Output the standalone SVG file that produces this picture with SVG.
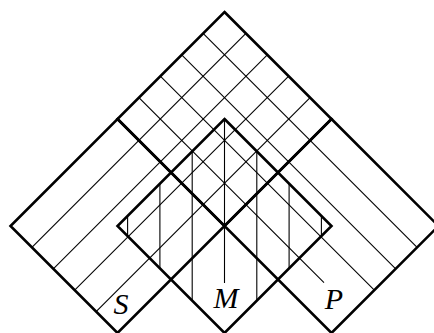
<svg xmlns="http://www.w3.org/2000/svg" width="434" height="333" viewBox="0 0 434 333">
<style>
.thick{fill:none;stroke:#000;stroke-width:2.6;stroke-linejoin:miter}
.thin{fill:none;stroke:#000;stroke-width:1.1}
.lbl{font-family:"Liberation Serif","DejaVu Serif",serif;font-style:italic;font-size:30px;fill:#000;text-anchor:middle}
</style>
<rect width="434" height="333" fill="#fff"/>
<g id="hatching" class="thin">
<line x1="203.1" y1="33.4" x2="417.1" y2="247.4"/>
<line x1="181.7" y1="54.8" x2="395.7" y2="268.8"/>
<line x1="160.3" y1="76.2" x2="374.3" y2="290.2"/>
<line x1="138.9" y1="97.6" x2="324" y2="282.7"/>
<line x1="245.9" y1="33.4" x2="31.9" y2="247.4"/>
<line x1="267.3" y1="54.8" x2="53.3" y2="268.8"/>
<line x1="288.7" y1="76.2" x2="74.7" y2="290.2"/>
<line x1="310.1" y1="97.6" x2="96.1" y2="311.6"/>
<line x1="127.6" y1="215.9" x2="127.6" y2="236.1"/>
<line x1="159.9" y1="183.6" x2="159.9" y2="268.4"/>
<line x1="192.2" y1="151.3" x2="192.2" y2="300.7"/>
<line x1="224.5" y1="119" x2="224.5" y2="283"/>
<line x1="256.8" y1="151.3" x2="256.8" y2="300.7"/>
<line x1="289.1" y1="183.6" x2="289.1" y2="268.4"/>
<line x1="321.4" y1="215.9" x2="321.4" y2="236.1"/>
</g>
<g id="T"><polygon class="thick" points="224.5,12 331.5,119 224.5,226 117.5,119"/></g>
<g id="S"><polygon class="thick" points="117.5,119 224.5,226 117.5,333 10.5,226"/><text class="lbl" x="121" y="314">S</text></g>
<g id="M"><polygon class="thick" points="224.5,119 331.5,226 224.5,333 117.5,226"/><text class="lbl" x="226" y="308">M</text></g>
<g id="P"><polygon class="thick" points="331.5,119 438.5,226 331.5,333 224.5,226"/><text class="lbl" x="334" y="309">P</text></g>
</svg>
